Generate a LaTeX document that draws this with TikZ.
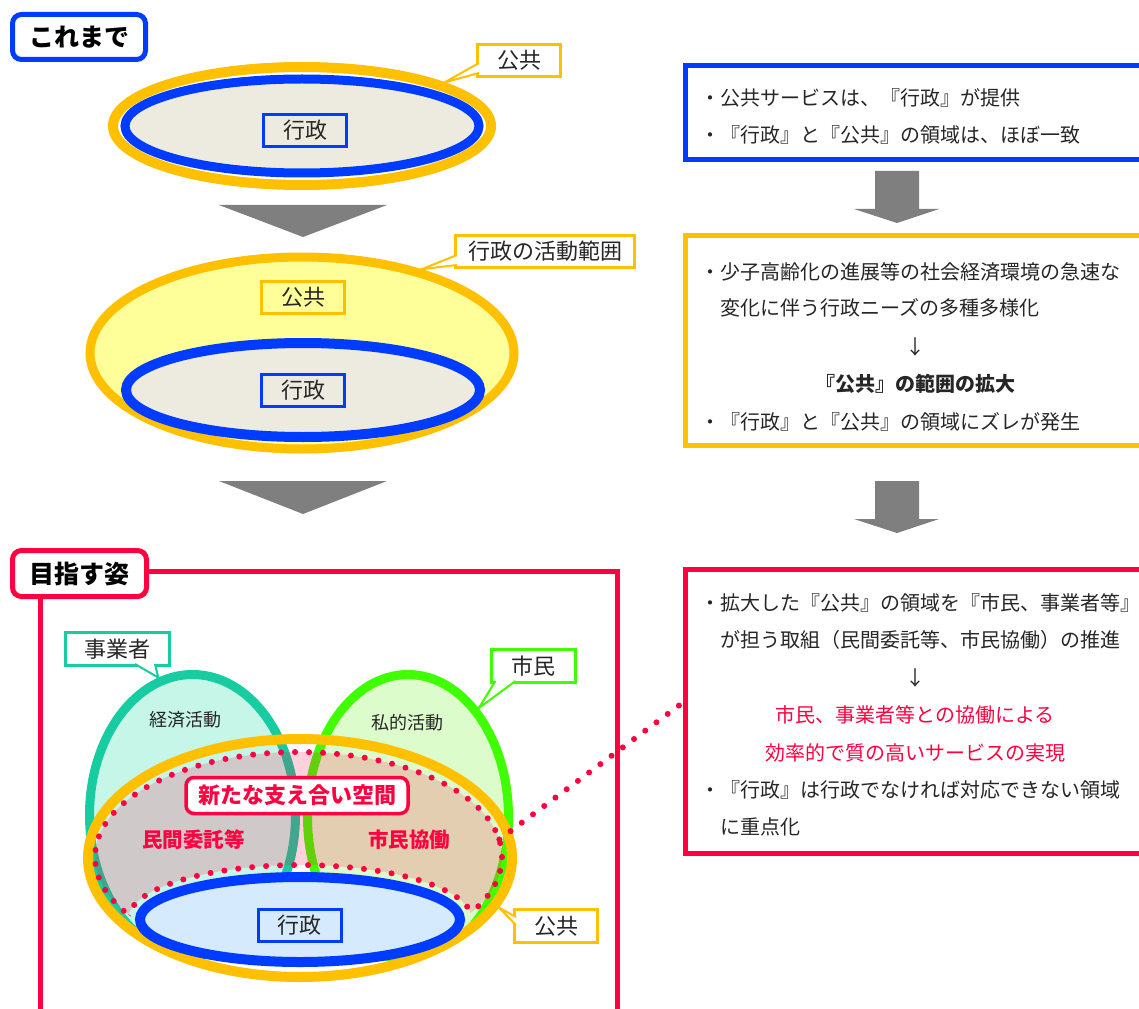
\documentclass[tikz,border=0pt]{standalone}
\usepackage{fontspec}
\newfontfamily\jp{Noto Sans CJK JP}
\usetikzlibrary{shapes.geometric,calc}
\definecolor{jblue}{RGB}{0,60,255}
\definecolor{jorange}{RGB}{255,192,0}
\definecolor{jred}{RGB}{255,0,64}
\definecolor{jteal}{RGB}{22,204,160}
\definecolor{jgreen}{RGB}{64,255,0}
\definecolor{jmint}{RGB}{197,246,232}
\definecolor{jlgreen}{RGB}{221,252,203}
\definecolor{jbeige}{RGB}{237,235,224}
\definecolor{jyellow}{RGB}{255,255,153}
\definecolor{jlblue}{RGB}{213,234,252}
\definecolor{jgray}{RGB}{127,127,127}
\definecolor{jtext}{RGB}{38,38,38}
\newcommand\jfs[1]{\fontsize{#1}{#1}\selectfont}
\begin{document}
\begin{tikzpicture}[x=1pt,y=-1pt,
 ttl/.style={draw, line width=5pt, rounded corners=9pt, fill=white, minimum width=133pt, minimum height=45pt, inner sep=0pt, font=\jp\bfseries\jfs{25}, text=black},
 lab/.style={draw, line width=3pt, minimum width=83pt, minimum height=32pt, inner sep=0pt, font=\jp\jfs{22}, text=jtext},
 clab/.style={lab, fill=white},
 ell/.style={ellipse, inner sep=0pt},
 rbox/.style={draw, line width=5pt, anchor=north west, inner sep=0pt, minimum width=470pt},
 rtxt/.style={anchor=west, inner sep=0pt, font=\jp\jfs{20}, text=jtext},
 ctxt/.style={inner sep=0pt, font=\jp\jfs{20}, text=jtext},
 ptr/.style={fill=white, line width=2pt, line join=miter},
 dots/.style={jred, line width=6pt, line cap=round, dash pattern=on 0pt off 14pt},
 vtxt/.style={inner sep=0pt, font=\jp\jfs{18}, text=jtext},
 rtext/.style={inner sep=0pt, font=\jp\bfseries\jfs{20.5}, text=jred},
 garrow/.style={fill=jgray}
]
\useasboundingbox (0,0) rectangle (1139,1008);
\fill[white] (0,0) rectangle (1139,1008);

% ---------- top: これまで ----------
\node[ttl, draw=jblue] (t1) at (79,37) {これまで};
\node[ell, draw=jorange, line width=10pt, minimum width=378pt, minimum height=118pt] (e1o) at (302,126) {};
\node[ell, draw=jblue, fill=jbeige, line width=9pt, minimum width=354pt, minimum height=94pt] (e1b) at (302,126) {};
\node[lab, draw=jblue] (g1) at (305,130.5) {行政};
\node[clab, draw=jorange] (k1) at (519,60.5) {公共};
\filldraw[ptr, draw=jorange] ([shift={(3pt,-2.5pt)}]k1.west) -- (e1o.17) -- ([shift={(3pt,-12.5pt)}]k1.west);

\fill[garrow] (219,205) -- (387,205) -- (303,237) -- cycle;

% ---------- second ----------
\node[ell, draw=jorange, fill=jyellow, line width=9pt, minimum width=424pt, minimum height=192pt] (e2o) at (302,353) {};
\node[ell, draw=jblue, fill=jbeige, line width=10pt, minimum width=354pt, minimum height=94pt] (e2b) at (303,390) {};
\node[lab, draw=jorange] (k2in) at (303,297.5) {公共};
\node[lab, draw=jblue] (g2) at (303,390) {行政};
\node[clab, draw=jorange, minimum width=179pt] (k2) at (545,251.5) {行政の活動範囲};
\filldraw[ptr, draw=jorange] ([shift={(3pt,-3.5pt)}]k2.west) -- (e2o.35) -- ([shift={(3pt,-13.5pt)}]k2.west);

\fill[garrow] (219,481) -- (387,481) -- (303,514) -- cycle;

% ---------- right boxes ----------
\node[rbox, draw=jblue, minimum height=94pt] (b1) at (683,63) {};
\node[rtxt] (t11) at (700,98) {・公共サービスは、『行政』が提供};
\node[rtxt] (t12) at (700,135) {・『行政』と『公共』の領域は、ほぼ一致};

\fill[garrow] (875,171) -- (919,171) -- (919,209) -- (939,209) -- (897,223) -- (854,209) -- (875,209) -- cycle;

\node[rbox, draw=jorange, minimum height=210pt] (b2) at (683,233) {};
\node[rtxt] (t21) at (700,272) {・少子高齢化の進展等の社会経済環境の急速な};
\node[rtxt] (t22) at (720,308) {変化に伴う行政ニーズの多種多様化};
\node[ctxt] (t23) at (915,347) {↓};
\node[ctxt, font=\jp\bfseries\jfs{20}] (t24) at (915,384) {『公共』の範囲の拡大};
\node[rtxt] (t25) at (700,422) {・『行政』と『公共』の領域にズレが発生};

\fill[garrow] (875,481) -- (919,481) -- (919,519) -- (939,519) -- (897,533) -- (854,519) -- (875,519) -- cycle;

\node[rbox, draw=jred, minimum height=284pt] (b3) at (683,567) {};
\node[rtxt] (t31) at (700,603) {・拡大した『公共』の領域を『市民、事業者等』};
\node[rtxt] (t32) at (720,640) {が担う取組（民間委託等、市民協働）の推進};
\node[ctxt] (t33) at (915,678) {↓};
\node[ctxt, text=jred] (t34) at (915,715) {市民、事業者等との協働による};
\node[ctxt, text=jred] (t35) at (915,753) {効率的で質の高いサービスの実現};
\node[rtxt] (t36) at (700,790) {・『行政』は行政でなければ対応できない領域};
\node[rtxt] (t37) at (720,827) {に重点化};

% ---------- bottom: 目指す姿 ----------
\node[ttl, draw=jred, minimum width=134pt, minimum height=46pt] (t2) at (79.5,573.5) {目指す姿};
\draw[jred, line width=5pt] ([yshift=2.5pt]t2.east) -- (617.5,571) -- (617.5,1015);
\draw[jred, line width=5pt] ([xshift=30pt]t2.south west) -- ++(0,420);

\node[ell, draw=jteal, fill=jmint, line width=9pt, minimum width=206pt, minimum height=281pt] (et) at (192.5,815) {};
\node[ell, draw=jgreen, fill=jlgreen, line width=9pt, minimum width=201pt, minimum height=285pt] (eg) at (408,817) {};
% hide the lower parts of the two ovals that lie outside the public ellipse
\begin{scope}
\clip (70,850) rectangle (540,1000);
\fill[white, even odd rule] (60,700) rectangle (550,1000) (300,858) ellipse [x radius=216pt, y radius=123pt];
\end{scope}
\node[ell, draw=jorange, line width=10pt, minimum width=424pt, minimum height=238pt] (e3o) at (300,858) {};
\node[ell, minimum width=407pt, minimum height=210pt] (dotO) at (298.5,857) {};

\begin{scope}
\clip (298.5,857) ellipse [x radius=203.5pt, y radius=105pt];
\fill[jred, opacity=.18, even odd rule] (60,700) rectangle (560,1000) (300,919.5) ellipse [x radius=172pt, y radius=54.5pt];
\draw[dots] (300,919.5) ellipse [x radius=172pt, y radius=54.5pt];
\end{scope}
\begin{scope}[even odd rule]
\clip (60,700) rectangle (560,1000) (300,919.5) ellipse [x radius=172pt, y radius=54.5pt];
\draw[dots] (298.5,857) ellipse [x radius=203.5pt, y radius=105pt];
\end{scope}

\node[ell, draw=jblue, fill=jlblue, line width=10pt, minimum width=320pt, minimum height=85pt] (e3b) at (300,919.5) {};
\node[lab, draw=jblue] (g3) at (299.5,925) {行政};

\node[vtxt] (w1) at (185.5,720) {経済活動};
\node[vtxt] (w2) at (407.5,723) {私的活動};
\node[draw=jred, fill=white, line width=3.5pt, rounded corners=8pt, minimum width=222pt, minimum height=36pt, inner sep=0pt, font=\jp\bfseries\jfs{22}, text=jred] (nb) at (297,795.5) {新たな支え合い空間};
\node[rtext] (m1) at (193.5,840) {民間委託等};
\node[rtext] (m2) at (409,840) {市民協働};

\node[clab, draw=jteal, minimum width=104pt, minimum height=33pt] (k3) at (117.5,649) {事業者};
\filldraw[ptr, draw=jteal] ([shift={(17.5pt,3pt)}]k3.south) -- (et.104) -- ([shift={(37.5pt,3pt)}]k3.south);
\node[clab, draw=jgreen, minimum width=84pt, minimum height=33pt] (k4) at (533.5,666) {市民};
\filldraw[ptr, draw=jgreen] ([shift={(-38pt,3pt)}]k4.south) -- (eg.57) -- ([shift={(-18pt,3pt)}]k4.south);
\node[clab, draw=jorange, minimum height=33pt] (k5) at (556,926) {公共};
\filldraw[ptr, draw=jorange] ([shift={(3pt,9pt)}]k5.west) -- (e3o.-14) -- ([shift={(3pt,1pt)}]k5.west);

\draw[dots] (dotO.5) -- ([yshift=9pt]b3.west);
\end{tikzpicture}
\end{document}
